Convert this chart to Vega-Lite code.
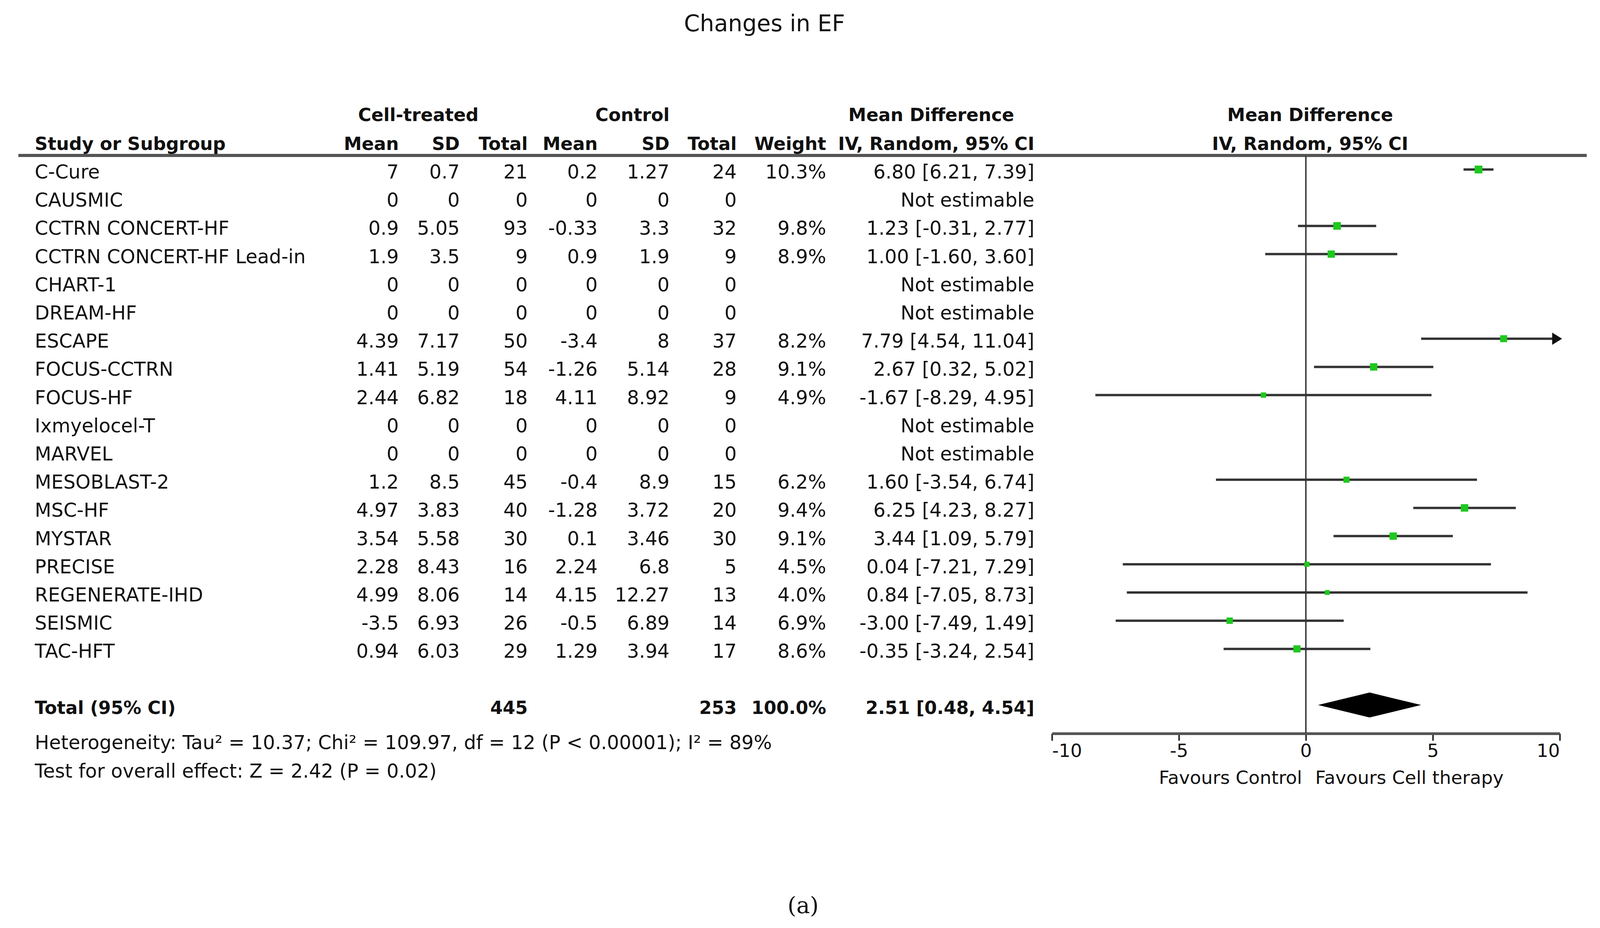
{
  "$schema": "https://vega.github.io/schema/vega-lite/v6.json",
  "width": 4096,
  "height": 1758,
  "autosize": {"type": "none"},
  "padding": {"left": 0, "top": 120, "right": 0, "bottom": 498},
  "background": "white",
  "title": {"text": "Changes in EF", "fontSize": 58, "font": "DejaVu Sans", "fontWeight": "normal", "anchor": "middle", "frame": "group", "dx": -91, "offset": -18, "baseline": "alphabetic", "color": "#111"},
  "config": {
    "view": {"stroke": null},
    "font": "DejaVu Sans",
    "text": {"font": "DejaVu Sans", "fontSize": 49, "color": "#111"}
  },
  "datasets": {
    "studies": [
      {"study": "C-Cure", "m1": 7, "sd1": 0.7, "n1": 21, "m2": 0.2, "sd2": 1.27, "n2": 24, "weight": 10.3, "md": 6.80, "lower": 6.21, "upper": 7.39, "ci": "6.80 [6.21, 7.39]"},
      {"study": "CAUSMIC", "m1": 0, "sd1": 0, "n1": 0, "m2": 0, "sd2": 0, "n2": 0, "weight": null, "md": null, "lower": null, "upper": null, "ci": "Not estimable"},
      {"study": "CCTRN CONCERT-HF", "m1": 0.9, "sd1": 5.05, "n1": 93, "m2": -0.33, "sd2": 3.3, "n2": 32, "weight": 9.8, "md": 1.23, "lower": -0.31, "upper": 2.77, "ci": "1.23 [-0.31, 2.77]"},
      {"study": "CCTRN CONCERT-HF Lead-in", "m1": 1.9, "sd1": 3.5, "n1": 9, "m2": 0.9, "sd2": 1.9, "n2": 9, "weight": 8.9, "md": 1.00, "lower": -1.60, "upper": 3.60, "ci": "1.00 [-1.60, 3.60]"},
      {"study": "CHART-1", "m1": 0, "sd1": 0, "n1": 0, "m2": 0, "sd2": 0, "n2": 0, "weight": null, "md": null, "lower": null, "upper": null, "ci": "Not estimable"},
      {"study": "DREAM-HF", "m1": 0, "sd1": 0, "n1": 0, "m2": 0, "sd2": 0, "n2": 0, "weight": null, "md": null, "lower": null, "upper": null, "ci": "Not estimable"},
      {"study": "ESCAPE", "m1": 4.39, "sd1": 7.17, "n1": 50, "m2": -3.4, "sd2": 8, "n2": 37, "weight": 8.2, "md": 7.79, "lower": 4.54, "upper": 11.04, "ci": "7.79 [4.54, 11.04]"},
      {"study": "FOCUS-CCTRN", "m1": 1.41, "sd1": 5.19, "n1": 54, "m2": -1.26, "sd2": 5.14, "n2": 28, "weight": 9.1, "md": 2.67, "lower": 0.32, "upper": 5.02, "ci": "2.67 [0.32, 5.02]"},
      {"study": "FOCUS-HF", "m1": 2.44, "sd1": 6.82, "n1": 18, "m2": 4.11, "sd2": 8.92, "n2": 9, "weight": 4.9, "md": -1.67, "lower": -8.29, "upper": 4.95, "ci": "-1.67 [-8.29, 4.95]"},
      {"study": "Ixmyelocel-T", "m1": 0, "sd1": 0, "n1": 0, "m2": 0, "sd2": 0, "n2": 0, "weight": null, "md": null, "lower": null, "upper": null, "ci": "Not estimable"},
      {"study": "MARVEL", "m1": 0, "sd1": 0, "n1": 0, "m2": 0, "sd2": 0, "n2": 0, "weight": null, "md": null, "lower": null, "upper": null, "ci": "Not estimable"},
      {"study": "MESOBLAST-2", "m1": 1.2, "sd1": 8.5, "n1": 45, "m2": -0.4, "sd2": 8.9, "n2": 15, "weight": 6.2, "md": 1.60, "lower": -3.54, "upper": 6.74, "ci": "1.60 [-3.54, 6.74]"},
      {"study": "MSC-HF", "m1": 4.97, "sd1": 3.83, "n1": 40, "m2": -1.28, "sd2": 3.72, "n2": 20, "weight": 9.4, "md": 6.25, "lower": 4.23, "upper": 8.27, "ci": "6.25 [4.23, 8.27]"},
      {"study": "MYSTAR", "m1": 3.54, "sd1": 5.58, "n1": 30, "m2": 0.1, "sd2": 3.46, "n2": 30, "weight": 9.1, "md": 3.44, "lower": 1.09, "upper": 5.79, "ci": "3.44 [1.09, 5.79]"},
      {"study": "PRECISE", "m1": 2.28, "sd1": 8.43, "n1": 16, "m2": 2.24, "sd2": 6.8, "n2": 5, "weight": 4.5, "md": 0.04, "lower": -7.21, "upper": 7.29, "ci": "0.04 [-7.21, 7.29]"},
      {"study": "REGENERATE-IHD", "m1": 4.99, "sd1": 8.06, "n1": 14, "m2": 4.15, "sd2": 12.27, "n2": 13, "weight": 4.0, "md": 0.84, "lower": -7.05, "upper": 8.73, "ci": "0.84 [-7.05, 8.73]"},
      {"study": "SEISMIC", "m1": -3.5, "sd1": 6.93, "n1": 26, "m2": -0.5, "sd2": 6.89, "n2": 14, "weight": 6.9, "md": -3.00, "lower": -7.49, "upper": 1.49, "ci": "-3.00 [-7.49, 1.49]"},
      {"study": "TAC-HFT", "m1": 0.94, "sd1": 6.03, "n1": 29, "m2": 1.29, "sd2": 3.94, "n2": 17, "weight": 8.6, "md": -0.35, "lower": -3.24, "upper": 2.54, "ci": "-0.35 [-3.24, 2.54]"}
    ],
    "total": [
      {"label": "Total (95% CI)", "n1": 445, "n2": 253, "weight": 100.0, "md": 2.51, "lower": 0.48, "upper": 4.54, "ci": "2.51 [0.48, 4.54]"}
    ]
  },
  "layer": [
    {
      "layer": [
        {"data": {"values": [{}]}, "mark": {"type": "text", "text": "Cell-treated", "align": "center", "baseline": "middle", "dy": 8, "fontWeight": "bold", "fontSize": 46},
         "encoding": {"x": {"datum": 1071, "type": "quantitative", "scale": {"domain": [0, 4096], "nice": false, "zero": false}, "axis": null},
                      "y": {"datum": -1.02, "type": "quantitative", "scale": {"domain": [-3.349, 21], "reverse": true, "nice": false, "zero": false}, "axis": null}}},
        {"data": {"values": [{}]}, "mark": {"type": "text", "text": "Control", "align": "center", "baseline": "middle", "dy": 8, "fontWeight": "bold", "fontSize": 46},
         "encoding": {"x": {"datum": 1619, "type": "quantitative"}, "y": {"datum": -1.02, "type": "quantitative"}}},
        {"data": {"values": [{}]}, "mark": {"type": "text", "text": "Mean Difference", "align": "center", "baseline": "middle", "dy": 8, "fontWeight": "bold", "fontSize": 46},
         "encoding": {"x": {"datum": 2384, "type": "quantitative"}, "y": {"datum": -1.02, "type": "quantitative"}}},
        {"data": {"values": [{}]}, "mark": {"type": "text", "text": "Mean Difference", "align": "center", "baseline": "middle", "dy": 8, "fontWeight": "bold", "fontSize": 46},
         "encoding": {"x": {"datum": 3354, "type": "quantitative"}, "y": {"datum": -1.02, "type": "quantitative"}}},
        {"data": {"values": [{}]}, "mark": {"type": "text", "text": "Study or Subgroup", "align": "left", "baseline": "middle", "dy": 8, "fontWeight": "bold", "fontSize": 46},
         "encoding": {"x": {"datum": 89, "type": "quantitative"}, "y": {"datum": 0, "type": "quantitative"}}},
        {"data": {"values": [{}]}, "mark": {"type": "text", "text": "Mean", "align": "right", "baseline": "middle", "dy": 8, "fontWeight": "bold", "fontSize": 46},
         "encoding": {"x": {"datum": 1021, "type": "quantitative"}, "y": {"datum": 0, "type": "quantitative"}}},
        {"data": {"values": [{}]}, "mark": {"type": "text", "text": "SD", "align": "right", "baseline": "middle", "dy": 8, "fontWeight": "bold", "fontSize": 46},
         "encoding": {"x": {"datum": 1177, "type": "quantitative"}, "y": {"datum": 0, "type": "quantitative"}}},
        {"data": {"values": [{}]}, "mark": {"type": "text", "text": "Total", "align": "right", "baseline": "middle", "dy": 8, "fontWeight": "bold", "fontSize": 46},
         "encoding": {"x": {"datum": 1351, "type": "quantitative"}, "y": {"datum": 0, "type": "quantitative"}}},
        {"data": {"values": [{}]}, "mark": {"type": "text", "text": "Mean", "align": "right", "baseline": "middle", "dy": 8, "fontWeight": "bold", "fontSize": 46},
         "encoding": {"x": {"datum": 1530, "type": "quantitative"}, "y": {"datum": 0, "type": "quantitative"}}},
        {"data": {"values": [{}]}, "mark": {"type": "text", "text": "SD", "align": "right", "baseline": "middle", "dy": 8, "fontWeight": "bold", "fontSize": 46},
         "encoding": {"x": {"datum": 1714, "type": "quantitative"}, "y": {"datum": 0, "type": "quantitative"}}},
        {"data": {"values": [{}]}, "mark": {"type": "text", "text": "Total", "align": "right", "baseline": "middle", "dy": 8, "fontWeight": "bold", "fontSize": 46},
         "encoding": {"x": {"datum": 1886, "type": "quantitative"}, "y": {"datum": 0, "type": "quantitative"}}},
        {"data": {"values": [{}]}, "mark": {"type": "text", "text": "Weight", "align": "right", "baseline": "middle", "dy": 8, "fontWeight": "bold", "fontSize": 46},
         "encoding": {"x": {"datum": 2115, "type": "quantitative"}, "y": {"datum": 0, "type": "quantitative"}}},
        {"data": {"values": [{}]}, "mark": {"type": "text", "text": "IV, Random, 95% CI", "align": "right", "baseline": "middle", "dy": 8, "fontWeight": "bold", "fontSize": 46},
         "encoding": {"x": {"datum": 2648, "type": "quantitative"}, "y": {"datum": 0, "type": "quantitative"}}},
        {"data": {"values": [{}]}, "mark": {"type": "text", "text": "IV, Random, 95% CI", "align": "center", "baseline": "middle", "dy": 8, "fontWeight": "bold", "fontSize": 46},
         "encoding": {"x": {"datum": 3354, "type": "quantitative"}, "y": {"datum": 0, "type": "quantitative"}}},
        {"data": {"values": [{}]}, "mark": {"type": "rule", "color": "#555", "strokeWidth": 8},
         "encoding": {"x": {"datum": 47, "type": "quantitative"}, "x2": {"datum": 4062}, "y": {"datum": 0.5, "type": "quantitative"}}},

        {"data": {"name": "studies"}, "transform": [{"window": [{"op": "row_number", "as": "row"}]}],
         "mark": {"type": "text", "align": "left", "baseline": "middle", "dy": 8},
         "encoding": {"x": {"datum": 89, "type": "quantitative"}, "y": {"field": "row", "type": "quantitative"}, "text": {"field": "study", "type": "nominal"}}},
        {"data": {"name": "studies"}, "transform": [{"window": [{"op": "row_number", "as": "row"}]}],
         "mark": {"type": "text", "align": "right", "baseline": "middle", "dy": 8},
         "encoding": {"x": {"datum": 1021, "type": "quantitative"}, "y": {"field": "row", "type": "quantitative"}, "text": {"field": "m1", "type": "nominal"}}},
        {"data": {"name": "studies"}, "transform": [{"window": [{"op": "row_number", "as": "row"}]}],
         "mark": {"type": "text", "align": "right", "baseline": "middle", "dy": 8},
         "encoding": {"x": {"datum": 1177, "type": "quantitative"}, "y": {"field": "row", "type": "quantitative"}, "text": {"field": "sd1", "type": "nominal"}}},
        {"data": {"name": "studies"}, "transform": [{"window": [{"op": "row_number", "as": "row"}]}],
         "mark": {"type": "text", "align": "right", "baseline": "middle", "dy": 8},
         "encoding": {"x": {"datum": 1351, "type": "quantitative"}, "y": {"field": "row", "type": "quantitative"}, "text": {"field": "n1", "type": "nominal"}}},
        {"data": {"name": "studies"}, "transform": [{"window": [{"op": "row_number", "as": "row"}]}],
         "mark": {"type": "text", "align": "right", "baseline": "middle", "dy": 8},
         "encoding": {"x": {"datum": 1530, "type": "quantitative"}, "y": {"field": "row", "type": "quantitative"}, "text": {"field": "m2", "type": "nominal"}}},
        {"data": {"name": "studies"}, "transform": [{"window": [{"op": "row_number", "as": "row"}]}],
         "mark": {"type": "text", "align": "right", "baseline": "middle", "dy": 8},
         "encoding": {"x": {"datum": 1714, "type": "quantitative"}, "y": {"field": "row", "type": "quantitative"}, "text": {"field": "sd2", "type": "nominal"}}},
        {"data": {"name": "studies"}, "transform": [{"window": [{"op": "row_number", "as": "row"}]}],
         "mark": {"type": "text", "align": "right", "baseline": "middle", "dy": 8},
         "encoding": {"x": {"datum": 1886, "type": "quantitative"}, "y": {"field": "row", "type": "quantitative"}, "text": {"field": "n2", "type": "nominal"}}},
        {"data": {"name": "studies"}, "transform": [{"window": [{"op": "row_number", "as": "row"}]}, {"calculate": "isValid(datum.weight) ? format(datum.weight, '.1f') + '%' : ''", "as": "wlabel"}],
         "mark": {"type": "text", "align": "right", "baseline": "middle", "dy": 8},
         "encoding": {"x": {"datum": 2115, "type": "quantitative"}, "y": {"field": "row", "type": "quantitative"}, "text": {"field": "wlabel", "type": "nominal"}}},
        {"data": {"name": "studies"}, "transform": [{"window": [{"op": "row_number", "as": "row"}]}],
         "mark": {"type": "text", "align": "right", "baseline": "middle", "dy": 8},
         "encoding": {"x": {"datum": 2648, "type": "quantitative"}, "y": {"field": "row", "type": "quantitative"}, "text": {"field": "ci", "type": "nominal"}}},

        {"data": {"name": "total"}, "mark": {"type": "text", "align": "left", "baseline": "middle", "dy": 8, "fontWeight": "bold", "fontSize": 46},
         "encoding": {"x": {"datum": 89, "type": "quantitative"}, "y": {"datum": 20, "type": "quantitative"}, "text": {"field": "label", "type": "nominal"}}},
        {"data": {"name": "total"}, "mark": {"type": "text", "align": "right", "baseline": "middle", "dy": 8, "fontWeight": "bold", "fontSize": 46},
         "encoding": {"x": {"datum": 1351, "type": "quantitative"}, "y": {"datum": 20, "type": "quantitative"}, "text": {"field": "n1", "type": "nominal"}}},
        {"data": {"name": "total"}, "mark": {"type": "text", "align": "right", "baseline": "middle", "dy": 8, "fontWeight": "bold", "fontSize": 46},
         "encoding": {"x": {"datum": 1886, "type": "quantitative"}, "y": {"datum": 20, "type": "quantitative"}, "text": {"field": "n2", "type": "nominal"}}},
        {"data": {"name": "total"}, "transform": [{"calculate": "format(datum.weight, '.1f') + '%'", "as": "wlabel"}],
         "mark": {"type": "text", "align": "right", "baseline": "middle", "dy": 8, "fontWeight": "bold", "fontSize": 46},
         "encoding": {"x": {"datum": 2115, "type": "quantitative"}, "y": {"datum": 20, "type": "quantitative"}, "text": {"field": "wlabel", "type": "nominal"}}},
        {"data": {"name": "total"}, "mark": {"type": "text", "align": "right", "baseline": "middle", "dy": 8, "fontWeight": "bold", "fontSize": 46},
         "encoding": {"x": {"datum": 2648, "type": "quantitative"}, "y": {"datum": 20, "type": "quantitative"}, "text": {"field": "ci", "type": "nominal"}}},

        {"data": {"values": [{}]}, "mark": {"type": "text", "text": "Heterogeneity: Tau² = 10.37; Chi² = 109.97, df = 12 (P < 0.00001); I² = 89%", "align": "left", "baseline": "middle", "dy": 8},
         "encoding": {"x": {"datum": 89, "type": "quantitative"}, "y": {"datum": 21.24, "type": "quantitative"}}},
        {"data": {"values": [{}]}, "mark": {"type": "text", "text": "Test for overall effect: Z = 2.42 (P = 0.02)", "align": "left", "baseline": "middle", "dy": 8},
         "encoding": {"x": {"datum": 89, "type": "quantitative"}, "y": {"datum": 22.25, "type": "quantitative"}}},
        {"data": {"values": [{}]}, "mark": {"type": "text", "text": "(a)", "align": "center", "baseline": "middle", "dy": 8, "font": "DejaVu Serif", "fontSize": 58},
         "encoding": {"x": {"datum": 2056, "type": "quantitative"}, "y": {"datum": 27.02, "type": "quantitative"}}}
      ]
    },
    {
      "layer": [
        {"data": {"values": [{}]}, "mark": {"type": "rule", "color": "#444", "strokeWidth": 4},
         "encoding": {
           "x": {"datum": 0, "type": "quantitative",
                 "scale": {"domain": [-10, 10], "range": [2693, 3993], "clamp": true, "nice": false, "zero": false},
                 "axis": {"orient": "bottom", "values": [-10, -5, 0, 5, 10], "labelFlush": true, "title": null, "grid": false, "domainColor": "#555", "domainWidth": 7, "tickColor": "#222", "tickWidth": 4, "tickSize": 18, "labelFontSize": 47, "labelColor": "#111", "labelFont": "DejaVu Sans", "labelPadding": 4, "labelExpr": "toString(datum.value)"}},
           "y": {"datum": 0.5, "type": "quantitative"},
           "y2": {"datum": 21}}},
        {"data": {"name": "studies"}, "transform": [{"window": [{"op": "row_number", "as": "row"}]}, {"filter": "isValid(datum.lower)"}],
         "mark": {"type": "rule", "color": "#333", "strokeWidth": 6},
         "encoding": {"x": {"field": "lower", "type": "quantitative", "title": null}, "x2": {"field": "upper"}, "y": {"field": "row", "type": "quantitative"}}},
        {"data": {"name": "studies"}, "transform": [{"window": [{"op": "row_number", "as": "row"}]}, {"filter": "isValid(datum.upper) && datum.upper > 10"}],
         "mark": {"type": "point", "shape": "M-0.6,-1L1,0L-0.6,1Z", "filled": true, "color": "#111", "size": 1000, "opacity": 1, "xOffset": -10},
         "encoding": {"x": {"field": "upper", "type": "quantitative", "title": null}, "y": {"field": "row", "type": "quantitative"}}},
        {"data": {"name": "studies"}, "transform": [{"window": [{"op": "row_number", "as": "row"}]}, {"filter": "isValid(datum.md)"}],
         "mark": {"type": "square", "filled": true, "color": "#1ec81e", "opacity": 1},
         "encoding": {"x": {"field": "md", "type": "quantitative", "title": null}, "y": {"field": "row", "type": "quantitative"},
                      "size": {"field": "weight", "type": "quantitative", "scale": {"domain": [0, 10.3], "range": [0, 400]}, "legend": null}}},
        {"data": {"name": "total"},
         "mark": {"type": "point", "shape": "M-1,0L0,-0.2425L1,0L0,0.2425Z", "filled": true, "color": "#000", "size": 69640, "opacity": 1},
         "encoding": {"x": {"field": "md", "type": "quantitative", "title": null}, "y": {"datum": 19.99, "type": "quantitative"}}},
        {"data": {"values": [{}]}, "mark": {"type": "text", "text": "Favours Control", "align": "right", "baseline": "middle", "dy": 8, "fontSize": 47},
         "encoding": {"x": {"datum": -0.15, "type": "quantitative"}, "y": {"datum": 22.48, "type": "quantitative"}}},
        {"data": {"values": [{}]}, "mark": {"type": "text", "text": "Favours Cell therapy", "align": "left", "baseline": "middle", "dy": 8, "fontSize": 47},
         "encoding": {"x": {"datum": 0.37, "type": "quantitative"}, "y": {"datum": 22.48, "type": "quantitative"}}}
      ]
    }
  ],
  "resolve": {"scale": {"x": "independent"}, "axis": {"x": "independent"}}
}
